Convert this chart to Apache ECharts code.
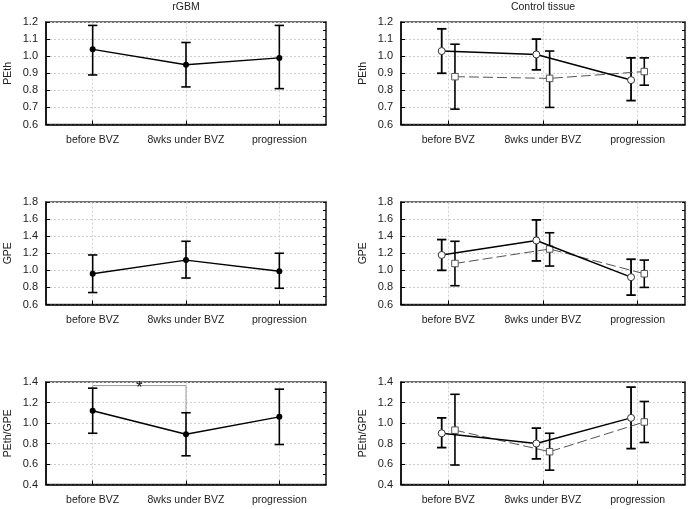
<!DOCTYPE html>
<html>
<head>
<meta charset="utf-8">
<script src="https://cdn.jsdelivr.net/npm/echarts@6/dist/echarts.min.js"></script>
<style>
html,body{margin:0;padding:0;background:#fff;}
#chart{width:689px;height:509px;}
</style>
</head>
<body>
<div id="chart"></div>
<script>
// ---------- data ----------
const categories = ['before BVZ', '8wks under BVZ', 'progression'];
const columnTitles = ['rGBM', 'Control tissue'];
const rowNames = ['PEth', 'GPE', 'PEth/GPE'];

// y-axis ranges per row: [min, max, interval]
const rowRanges = [[0.6, 1.2, 0.1], [0.6, 1.8, 0.2], [0.4, 1.4, 0.2]];

// rGBM (filled circles)
const rgbmPEthMean = [1.04, 0.95, 0.99];
const rgbmPEthLow  = [0.89, 0.82, 0.81];
const rgbmPEthHigh = [1.18, 1.08, 1.18];

const rgbmGPEMean = [0.96, 1.12, 0.99];
const rgbmGPELow  = [0.74, 0.91, 0.79];
const rgbmGPEHigh = [1.18, 1.34, 1.20];

const rgbmRatioMean = [1.12, 0.89, 1.06];
const rgbmRatioLow  = [0.90, 0.68, 0.79];
const rgbmRatioHigh = [1.34, 1.10, 1.33];

// Control tissue: solid (open circles) and dashed (open squares)
const ctrlPEthMeanA = [1.03, 1.01, 0.86];
const ctrlPEthLowA  = [0.90, 0.92, 0.74];
const ctrlPEthHighA = [1.16, 1.10, 0.99];
const ctrlPEthMeanB = [0.88, 0.87, 0.91];
const ctrlPEthLowB  = [0.69, 0.70, 0.83];
const ctrlPEthHighB = [1.07, 1.03, 0.99];

const ctrlGPEMeanA = [1.18, 1.35, 0.92];
const ctrlGPELowA  = [1.00, 1.11, 0.71];
const ctrlGPEHighA = [1.36, 1.59, 1.13];
const ctrlGPEMeanB = [1.08, 1.25, 0.96];
const ctrlGPELowB  = [0.82, 1.05, 0.80];
const ctrlGPEHighB = [1.34, 1.44, 1.12];

const ctrlRatioMeanA = [0.90, 0.80, 1.05];
const ctrlRatioLowA  = [0.76, 0.65, 0.75];
const ctrlRatioHighA = [1.05, 0.95, 1.35];
const ctrlRatioMeanB = [0.93, 0.72, 1.01];
const ctrlRatioLowB  = [0.59, 0.54, 0.81];
const ctrlRatioHighB = [1.28, 0.90, 1.21];

// significance bracket in rGBM PEth/GPE panel
const sigPair = [0, 1];
const sigLevel = 1.365;
const sigEnds = [1.34, 1.10];
const sigLabel = '*';

// ---------- layout / style ----------
const FONT = 'Liberation Sans, Arial, sans-serif';
const colLeft = [46, 401];
const colWidth = [280, 284];
const rowTop = [22, 202, 382];
const rowHeight = 102.5;
const pairOffset = 0.07;
const gridLineStyle = { color: '#cfcfcf', type: [2, 2], width: 1 };

const chart = echarts.init(document.getElementById('chart'));

const grids = [], xAxes = [], yAxes = [], series = [];

function errRender(color, lw, cap) {
  return function (params, api) {
    const x = api.value(0), lo = api.value(1), hi = api.value(2);
    const a = api.coord([x, lo]), b = api.coord([x, hi]);
    const st = { stroke: color, lineWidth: lw };
    return {
      type: 'group',
      children: [
        { type: 'line', shape: { x1: a[0], y1: a[1], x2: b[0], y2: b[1] }, style: st },
        { type: 'line', shape: { x1: a[0] - cap, y1: a[1], x2: a[0] + cap, y2: a[1] }, style: st },
        { type: 'line', shape: { x1: b[0] - cap, y1: b[1], x2: b[0] + cap, y2: b[1] }, style: st }
      ]
    };
  };
}

function addPanel(col, row, groups) {
  const gi = grids.length;
  const rr = rowRanges[row];
  grids.push({
    left: colLeft[col], top: rowTop[row], width: colWidth[col], height: rowHeight,
    show: true, borderColor: '#444', borderWidth: 1.5, backgroundColor: 'transparent'
  });
  // visible category axis (labels, ticks)
  xAxes.push({
    gridIndex: gi, type: 'category', data: categories, boundaryGap: true,
    axisLine: { show: true, onZero: false, lineStyle: { color: '#000', width: 1.5 } },
    axisTick: { show: true, inside: true, alignWithLabel: true, length: 4, lineStyle: { color: '#000' } },
    axisLabel: { show: true, margin: 10, color: '#222', fontFamily: FONT, fontSize: 10.5, interval: 0 },
    splitLine: { show: false }
  });
  // hidden value axis used to place the marks (category index + offset)
  const xi = xAxes.length;
  xAxes.push({
    gridIndex: gi, type: 'value', min: -0.5, max: 2.5, show: false,
    axisLine: { onZero: false }, splitLine: { show: false }
  });
  const yi = yAxes.length;
  yAxes.push({
    gridIndex: gi, type: 'value', min: rr[0], max: rr[1], interval: rr[2],
    name: rowNames[row], nameLocation: 'middle', nameGap: 32,
    nameTextStyle: { color: '#222', fontFamily: FONT, fontSize: 10.5 },
    axisLine: { show: true, onZero: false, lineStyle: { color: '#000', width: 1.5 } },
    axisTick: { show: true, inside: true, length: 4, lineStyle: { color: '#000' } },
    axisLabel: { color: '#222', fontFamily: FONT, fontSize: 11, margin: 8,
      formatter: v => v.toFixed(1) },
    splitLine: { show: true, lineStyle: gridLineStyle }
  });
  yAxes.push({
    gridIndex: gi, type: 'value', position: 'right', min: rr[0], max: rr[1], interval: rr[2] / 2,
    axisLine: { show: true, onZero: false, lineStyle: { color: '#444', width: 1.5 } },
    axisTick: { show: true, inside: true, length: 3, lineStyle: { color: '#000' } },
    axisLabel: { show: false }, splitLine: { show: false }
  });
  // vertical dotted grid lines at the category centres (drawn beneath the marks)
  series.push({
    type: 'custom', xAxisIndex: xi, yAxisIndex: yi, z: 0, silent: true,
    data: [], renderItem: () => null,
    markLine: {
      silent: true, symbol: 'none', animation: false, z: 0,
      label: { show: false },
      lineStyle: gridLineStyle,
      data: categories.map((c, i) => ({ xAxis: i }))
    }
  });
  groups.forEach(g => {
    const xs = g.mean.map((_, i) => i + g.offset);
    series.push({
      type: 'custom', xAxisIndex: xi, yAxisIndex: yi,
      renderItem: errRender('#000', g.barWidth, 4.7),
      data: xs.map((x, i) => [x, g.low[i], g.high[i]]),
      encode: { x: 0, y: [1, 2] }, z: 2, silent: true
    });
  });
  groups.forEach(g => {
    const xs = g.mean.map((_, i) => i + g.offset);
    series.push({
      type: 'line', xAxisIndex: xi, yAxisIndex: yi,
      data: xs.map((x, i) => [x, g.mean[i]]),
      symbol: g.symbol, symbolSize: g.symbolSize, showSymbol: true,
      lineStyle: g.lineStyle,
      itemStyle: g.itemStyle, z: g.z, silent: true, animation: false
    });
  });
  return { xi, yi };
}

function filled(mean, low, high) {
  return { mean, low, high, offset: 0, barWidth: 1.6, symbol: 'circle', symbolSize: 6,
    lineStyle: { color: '#000', width: 1.4 }, itemStyle: { color: '#000', borderWidth: 0, opacity: 1 }, z: 3 };
}
function openCircle(mean, low, high) {
  return { mean, low, high, offset: -pairOffset, barWidth: 1.8, symbol: 'circle', symbolSize: 7,
    lineStyle: { color: '#000', width: 1.5 }, itemStyle: { color: '#fff', borderColor: '#333', borderWidth: 1, opacity: 1 }, z: 4 };
}
function openSquare(mean, low, high) {
  return { mean, low, high, offset: pairOffset, barWidth: 1.6, symbol: 'rect', symbolSize: 6.5,
    lineStyle: { color: '#555', width: 1, type: [10, 4] }, itemStyle: { color: '#fff', borderColor: '#555', borderWidth: 1, opacity: 1 }, z: 3 };
}

addPanel(0, 0, [filled(rgbmPEthMean, rgbmPEthLow, rgbmPEthHigh)]);
addPanel(1, 0, [openSquare(ctrlPEthMeanB, ctrlPEthLowB, ctrlPEthHighB), openCircle(ctrlPEthMeanA, ctrlPEthLowA, ctrlPEthHighA)]);
addPanel(0, 1, [filled(rgbmGPEMean, rgbmGPELow, rgbmGPEHigh)]);
addPanel(1, 1, [openSquare(ctrlGPEMeanB, ctrlGPELowB, ctrlGPEHighB), openCircle(ctrlGPEMeanA, ctrlGPELowA, ctrlGPEHighA)]);
const sigAxes = addPanel(0, 2, [filled(rgbmRatioMean, rgbmRatioLow, rgbmRatioHigh)]);
addPanel(1, 2, [openSquare(ctrlRatioMeanB, ctrlRatioLowB, ctrlRatioHighB), openCircle(ctrlRatioMeanA, ctrlRatioLowA, ctrlRatioHighA)]);

// significance bracket
series.push({
  type: 'custom', xAxisIndex: sigAxes.xi, yAxisIndex: sigAxes.yi, z: 1, silent: true,
  data: [[sigPair[0], sigPair[1], sigLevel, sigEnds[0], sigEnds[1]]],
  renderItem: function (params, api) {
    const x0 = api.value(0), x1 = api.value(1), lv = api.value(2), e0 = api.value(3), e1 = api.value(4);
    const p0 = api.coord([x0, e0]), p1 = api.coord([x0, lv]), p2 = api.coord([x1, lv]), p3 = api.coord([x1, e1]);
    return {
      type: 'group',
      children: [
        { type: 'polyline', shape: { points: [p0, p1, p2, p3] }, style: { stroke: '#9a9a9a', lineWidth: 1, fill: null } },
        { type: 'text', x: (p1[0] + p2[0]) / 2, y: p1[1] + 3,
          style: { text: sigLabel, fill: '#111', font: '16px ' + FONT, textAlign: 'center', textVerticalAlign: 'middle' } }
      ]
    };
  }
});

const titleX = [colLeft[0] + colWidth[0] / 2, colLeft[1] + colWidth[1] / 2];

chart.setOption({
  animation: false,
  backgroundColor: '#fff',
  grid: grids,
  xAxis: xAxes,
  yAxis: yAxes,
  series: series,
  graphic: columnTitles.map((t, i) => ({
    type: 'text', x: titleX[i], y: 7,
    style: { text: t, fill: '#222', font: '10.5px ' + FONT, textAlign: 'center', textVerticalAlign: 'middle' }
  }))
});
</script>
</body>
</html>
